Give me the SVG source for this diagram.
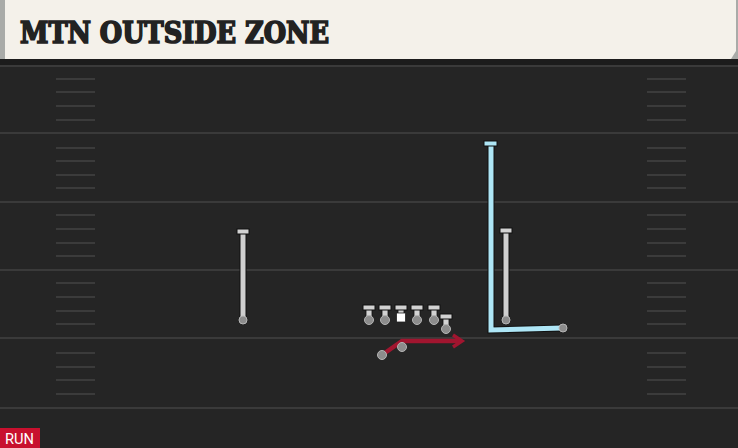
<svg xmlns="http://www.w3.org/2000/svg" width="738" height="448" viewBox="0 0 738 448">
<style>
.yard{stroke:#3a3a3a;stroke-width:2}
.hash{stroke:#3b3b3b;stroke-width:2}
.under{fill:none;stroke:#111;stroke-width:7;stroke-linecap:butt}
.gray{fill:none;stroke:#cfcfcf;stroke-width:5}
.dot{fill:#8c8c8c;stroke:#b5b5b5;stroke-width:1}
.bar{fill:#d2d2d2;stroke:#111;stroke-width:1}
.stem{fill:#d2d2d2;stroke:#111;stroke-width:0.8}
</style>
<defs>
<g id="hashes">
<line class="hash" x1="0" y1="0" x2="39" y2="0"/>
</g>
</defs>
<rect x="0" y="0" width="738" height="448" fill="#252525"/>
<g id="header">
<rect x="0" y="0" width="738" height="60" fill="#a9aba8"/>
<path d="M5,0 H736 V51 L731,59 H5 Z" fill="#f4f1ea"/>
<rect x="0" y="59" width="738" height="6" fill="#1c1c1c"/>
<text x="20" y="43" font-family="'DejaVu Serif Condensed','DejaVu Serif',serif" font-weight="bold" font-size="29" textLength="309" lengthAdjust="spacingAndGlyphs" fill="#222" stroke="#222" stroke-width="1.6" stroke-linejoin="miter">MTN OUTSIDE ZONE</text>
</g>
<g id="field">
<line class="yard" x1="0" y1="66" x2="738" y2="66"/>
<line class="yard" x1="0" y1="133" x2="738" y2="133"/>
<line class="yard" x1="0" y1="202" x2="738" y2="202"/>
<line class="yard" x1="0" y1="270" x2="738" y2="270"/>
<line class="yard" x1="0" y1="338" x2="738" y2="338"/>
<line class="yard" x1="0" y1="408" x2="738" y2="408"/>
<g id="leftHashes" transform="translate(56,0)">
<use href="#hashes" y="79"/><use href="#hashes" y="92"/><use href="#hashes" y="106"/><use href="#hashes" y="120"/>
<use href="#hashes" y="148"/><use href="#hashes" y="161"/><use href="#hashes" y="175"/><use href="#hashes" y="188"/>
<use href="#hashes" y="215"/><use href="#hashes" y="229"/><use href="#hashes" y="243"/><use href="#hashes" y="256"/>
<use href="#hashes" y="283"/><use href="#hashes" y="297"/><use href="#hashes" y="311"/><use href="#hashes" y="324"/>
<use href="#hashes" y="353"/><use href="#hashes" y="367"/><use href="#hashes" y="380"/><use href="#hashes" y="394"/>
</g>
<g id="rightHashes" transform="translate(647,0)">
<use href="#hashes" y="79"/><use href="#hashes" y="92"/><use href="#hashes" y="106"/><use href="#hashes" y="120"/>
<use href="#hashes" y="148"/><use href="#hashes" y="161"/><use href="#hashes" y="175"/><use href="#hashes" y="188"/>
<use href="#hashes" y="215"/><use href="#hashes" y="229"/><use href="#hashes" y="243"/><use href="#hashes" y="256"/>
<use href="#hashes" y="283"/><use href="#hashes" y="297"/><use href="#hashes" y="311"/><use href="#hashes" y="324"/>
<use href="#hashes" y="353"/><use href="#hashes" y="367"/><use href="#hashes" y="380"/><use href="#hashes" y="394"/>
</g>
</g>
<g id="connectors">
<path class="under" d="M243,234 V319"/>
<path class="gray" d="M243,234 V319"/>
<path class="under" d="M506,233 V319"/>
<path class="gray" d="M506,233 V319"/>
<path d="M491,145 V330 L562,328" fill="none" stroke="#111" stroke-width="7"/>
<path d="M491,145 V330 L562,328" fill="none" stroke="#aee6f6" stroke-width="5"/>
<path d="M382,355 L402,341 H459" fill="none" stroke="#a1152f" stroke-width="4.5"/>
<path d="M453,335 L462,341 L453,347" fill="none" stroke="#a1152f" stroke-width="3.5"/>
</g>
<g id="wr-left">
<rect class="bar" x="237" y="229" width="12" height="5"/>
<circle class="dot" cx="243" cy="320" r="4"/>
</g>
<g id="slot-right">
<rect class="bar" x="500" y="228" width="12" height="5"/>
<circle class="dot" cx="506" cy="320" r="4"/>
</g>
<g id="wr-right">
<rect x="484" y="141" width="13" height="5" fill="#aee6f6" stroke="#111" stroke-width="1"/>
<circle class="dot" cx="563" cy="328" r="4"/>
</g>
<g id="ol-1">
<rect class="stem" x="366" y="307" width="6" height="12"/>
<rect class="bar" x="363" y="305" width="12" height="5"/>
<circle class="dot" cx="369" cy="320" r="4.5"/>
</g>
<g id="ol-2">
<rect class="stem" x="382" y="307" width="6" height="12"/>
<rect class="bar" x="379" y="305" width="12" height="5"/>
<circle class="dot" cx="385" cy="320" r="4.5"/>
</g>
<g id="center">
<rect class="stem" x="398" y="307" width="6" height="7"/>
<rect class="bar" x="395" y="305" width="12" height="5"/>
<rect x="396.5" y="313" width="9" height="9" fill="#fff" stroke="#222" stroke-width="0.8"/>
</g>
<g id="ol-4">
<rect class="stem" x="414" y="307" width="6" height="12"/>
<rect class="bar" x="411" y="305" width="12" height="5"/>
<circle class="dot" cx="417" cy="320" r="4.5"/>
</g>
<g id="ol-5">
<rect class="stem" x="431" y="307" width="6" height="12"/>
<rect class="bar" x="428" y="305" width="12" height="5"/>
<circle class="dot" cx="434" cy="320" r="4.5"/>
</g>
<g id="te">
<rect class="stem" x="443" y="316" width="6" height="12"/>
<rect class="bar" x="440" y="314" width="12" height="5"/>
<circle class="dot" cx="446" cy="329" r="4.5"/>
</g>
<g id="qb">
<circle class="dot" cx="402" cy="347" r="4.5"/>
</g>
<g id="rb">
<circle class="dot" cx="382" cy="355" r="4.5"/>
</g>
<g id="tag">
<rect x="0" y="428" width="40" height="20" fill="#c8102e"/>
<text x="5" y="444" font-family="Roboto,'Liberation Sans',sans-serif" font-size="15" textLength="29" lengthAdjust="spacingAndGlyphs" fill="#fff">RUN</text>
</g>
</svg>
